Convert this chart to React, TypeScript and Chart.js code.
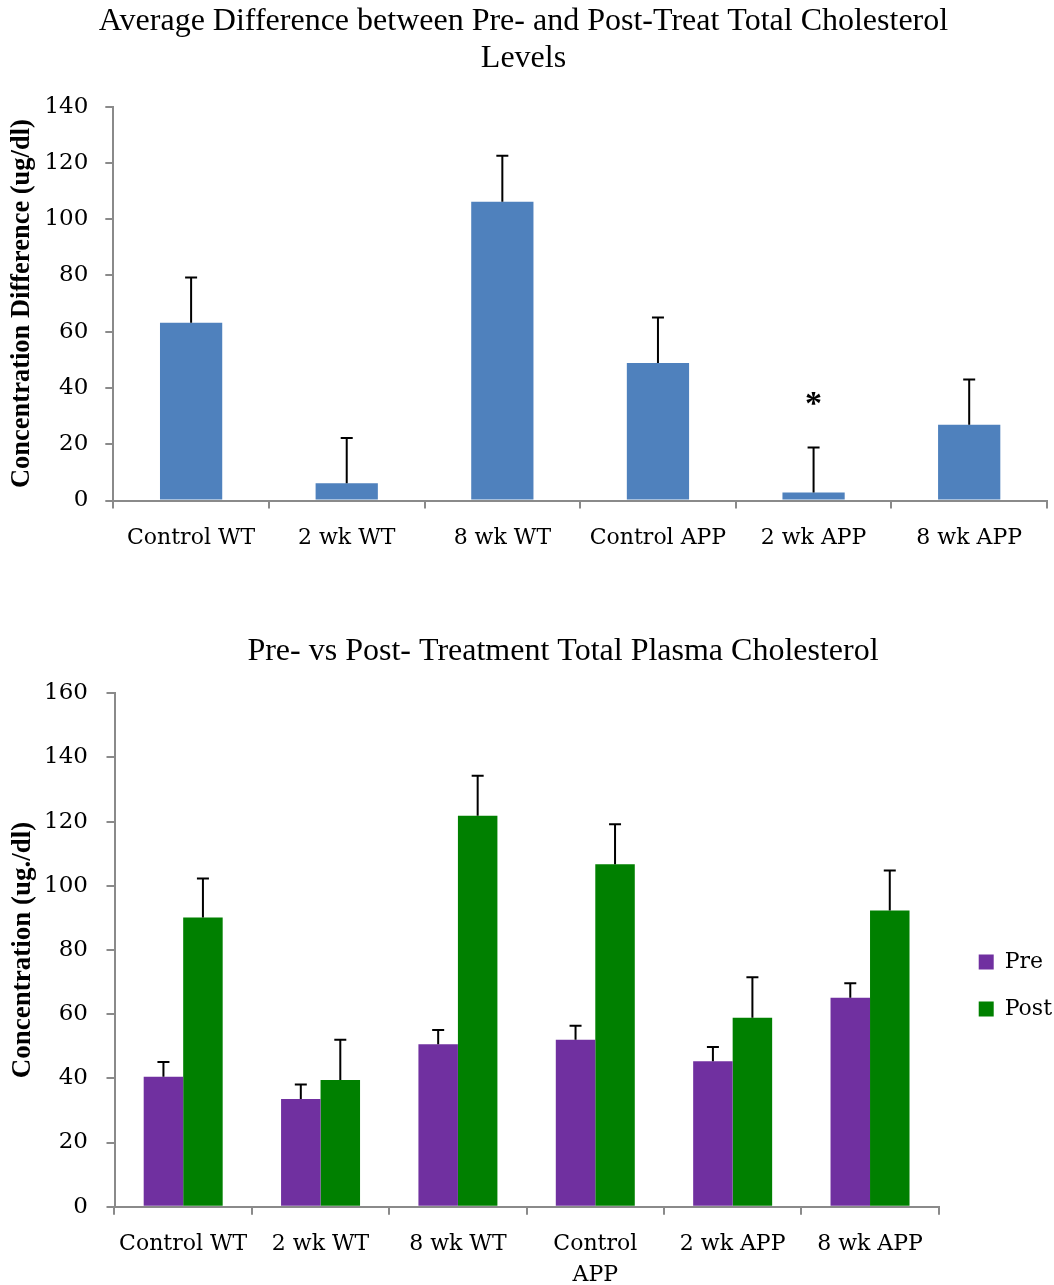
import React, { useEffect, useRef } from "react";
import { Chart, registerables } from "chart.js";

Chart.register(...registerables);

// ---------- Data ----------
const topCategories = ["Control WT", "2 wk WT", "8 wk WT", "Control APP", "2 wk APP", "8 wk APP"];
const diffValues = [63.2, 6.1, 106.2, 48.9, 2.8, 26.9];
const diffErrors = [16.1, 16.1, 16.4, 16.2, 16.0, 16.1];
const diffMarks = ["", "", "", "", "*", ""];
const topTicks = { min: 0, max: 140, step: 20 };

const bottomCategories = [["Control WT"], ["2 wk WT"], ["8 wk WT"], ["Control", "APP"], ["2 wk APP"], ["8 wk APP"]];
const preValues = [40.5, 33.6, 50.6, 52.0, 45.3, 65.1];
const preErrors = [4.6, 4.5, 4.5, 4.4, 4.5, 4.5];
const postValues = [90.1, 39.5, 121.8, 106.7, 58.9, 92.3];
const postErrors = [12.2, 12.5, 12.5, 12.5, 12.6, 12.5];
const bottomTicks = { min: 0, max: 160, step: 20 };

// ---------- Styles ----------
const AXIS = "#8a8a8a";
const TICK_FONT = { family: "DejaVu Serif", size: 22 };
const YTICK_FONT = { family: "DejaVu Serif", size: 23 };
const TITLE_FONT = { family: "Liberation Serif", size: 32, weight: "normal", lineHeight: 1.156 };

const errorBarPlugin = {
  id: "errorBars",
  afterDatasetsDraw(chart: any) {
    const ctx = chart.ctx;
    const yScale = chart.scales.y;
    chart.data.datasets.forEach((ds: any, di: number) => {
      const errs = ds.errors;
      if (!errs) return;
      const meta = chart.getDatasetMeta(di);
      meta.data.forEach((bar: any, i: number) => {
        const v = ds.data[i];
        const e = errs[i];
        const x = bar.x;
        const y0 = yScale.getPixelForValue(v);
        const y1 = yScale.getPixelForValue(v + e);
        ctx.save();
        ctx.strokeStyle = "#000";
        ctx.lineWidth = 2;
        ctx.beginPath();
        ctx.moveTo(x, y0);
        ctx.lineTo(x, y1);
        ctx.moveTo(x - 6, y1);
        ctx.lineTo(x + 6, y1);
        ctx.stroke();
        if (ds.marks && ds.marks[i]) {
          ctx.fillStyle = "#000";
          ctx.font = "bold 34px 'Liberation Serif'";
          ctx.textAlign = "center";
          ctx.textBaseline = "alphabetic";
          ctx.fillText(ds.marks[i], x, y1 - 34);
        }
        ctx.restore();
      });
    });
  },
};

const shiftPlugin = {
  id: "boxShift",
  afterLayout(chart: any) {
    const o = chart.options.plugins.boxShift;
    if (!o) return;
    const lg = chart.legend;
    if (lg && o.legend) {
      lg.left += o.legend.dx;
      lg.right += o.legend.dx;
      lg.top += o.legend.dy;
      lg.bottom += o.legend.dy;
    }
    const tb = chart.titleBlock;
    if (tb && o.title) {
      tb.left += o.title.dx;
      tb.right += o.title.dx;
    }
  },
};

function axisGrid() {
  return {
    drawOnChartArea: false,
    drawTicks: true,
    tickLength: 8,
    color: AXIS,
    lineWidth: 2,
  };
}

function topConfig(): any {
  return {
    type: "bar",
    data: {
      labels: topCategories,
      datasets: [
        {
          label: "Difference",
          data: diffValues,
          errors: diffErrors,
          marks: diffMarks,
          backgroundColor: "#4F81BD",
          barPercentage: 0.4,
          categoryPercentage: 1,
        },
      ],
    },
    options: {
      responsive: false,
      animation: false,
      layout: { padding: { left: 0, right: 7, top: 0, bottom: 0 } },
      plugins: {
        legend: { display: false },
        tooltip: { enabled: false },
        title: {
          display: true,
          text: ["Average Difference between Pre- and Post-Treat Total Cholesterol", "Levels"],
          font: TITLE_FONT,
          color: "#000",
          padding: { top: 3.5, bottom: 29.2 },
        },
      },
      scales: {
        x: {
          grid: { ...axisGrid(), offset: true },
          border: { color: AXIS, width: 2 },
          ticks: { font: TICK_FONT, color: "#000", padding: 17, maxRotation: 0, autoSkip: false },
          afterFit: (s: any) => {
            s.height = 79.5;
          },
        },
        y: {
          min: topTicks.min,
          max: topTicks.max,
          ticks: { stepSize: topTicks.step, font: YTICK_FONT, color: "#000", padding: 17 },
          grid: axisGrid(),
          border: { color: AXIS, width: 2 },
          title: {
            display: true,
            text: "Concentration Difference (ug/dl)",
            font: { family: "Liberation Serif", size: 26.5, weight: "bold" },
            color: "#000",
            padding: { top: 6, bottom: 0 },
          },
          afterFit: (s: any) => {
            s.width = 113.3;
          },
        },
      },
    },
    plugins: [errorBarPlugin],
  };
}

function bottomConfig(): any {
  return {
    type: "bar",
    data: {
      labels: bottomCategories,
      datasets: [
        {
          label: "Pre",
          data: preValues,
          errors: preErrors,
          backgroundColor: "#7030A0",
          barPercentage: 1,
          categoryPercentage: 0.575,
        },
        {
          label: "Post",
          data: postValues,
          errors: postErrors,
          backgroundColor: "#008000",
          barPercentage: 1,
          categoryPercentage: 0.575,
        },
      ],
    },
    options: {
      responsive: false,
      animation: false,
      layout: { padding: { left: 0, right: 7, top: 0, bottom: 0 } },
      plugins: {
        tooltip: { enabled: false },
        boxShift: { legend: { dx: 15, dy: 43 }, title: { dx: 39.5 } },
        legend: {
          display: true,
          position: "right",
          labels: {
            boxWidth: 15,
            boxHeight: 15,
            padding: 25,
            font: TICK_FONT,
            color: "#000",
          },
        },
        title: {
          display: true,
          text: "Pre- vs Post- Treatment Total Plasma Cholesterol",
          font: TITLE_FONT,
          color: "#000",
          padding: { top: 33.5, bottom: 22.8 },
        },
      },
      scales: {
        x: {
          grid: { ...axisGrid(), offset: true },
          border: { color: AXIS, width: 2 },
          ticks: {
            font: { ...TICK_FONT, lineHeight: 1.4 },
            color: "#000",
            padding: 14,
            maxRotation: 0,
            autoSkip: false,
          },
          afterFit: (s: any) => {
            s.height = 78.3;
          },
        },
        y: {
          min: bottomTicks.min,
          max: bottomTicks.max,
          ticks: { stepSize: bottomTicks.step, font: YTICK_FONT, color: "#000", padding: 18.5 },
          grid: axisGrid(),
          border: { color: AXIS, width: 2 },
          title: {
            display: true,
            text: "Concentration (ug./dl)",
            font: { family: "Liberation Serif", size: 27, weight: "bold" },
            color: "#000",
            padding: { top: 7, bottom: 0 },
          },
          afterFit: (s: any) => {
            s.width = 114.5;
          },
        },
      },
    },
    plugins: [errorBarPlugin, shiftPlugin],
  };
}

function ChartCanvas(props: { make: () => any; width: number; height: number; left: number; top: number }) {
  const ref = useRef<HTMLCanvasElement | null>(null);
  useEffect(() => {
    const chart = new Chart(ref.current as HTMLCanvasElement, props.make());
    return () => chart.destroy();
  }, []);
  return (
    <canvas
      ref={ref}
      width={props.width}
      height={props.height}
      style={{ position: "absolute", left: props.left, top: props.top, width: props.width, height: props.height, display: "block" }}
    />
  );
}

export default function App() {
  return (
    <div style={{ position: "absolute", left: 0, top: 0, width: 1054, height: 1285, overflow: "hidden", background: "#fff" }}>
      <ChartCanvas make={topConfig} width={1054} height={580} left={0} top={0} />
      <ChartCanvas make={bottomConfig} width={1054} height={685} left={0} top={600} />
    </div>
  );
}
